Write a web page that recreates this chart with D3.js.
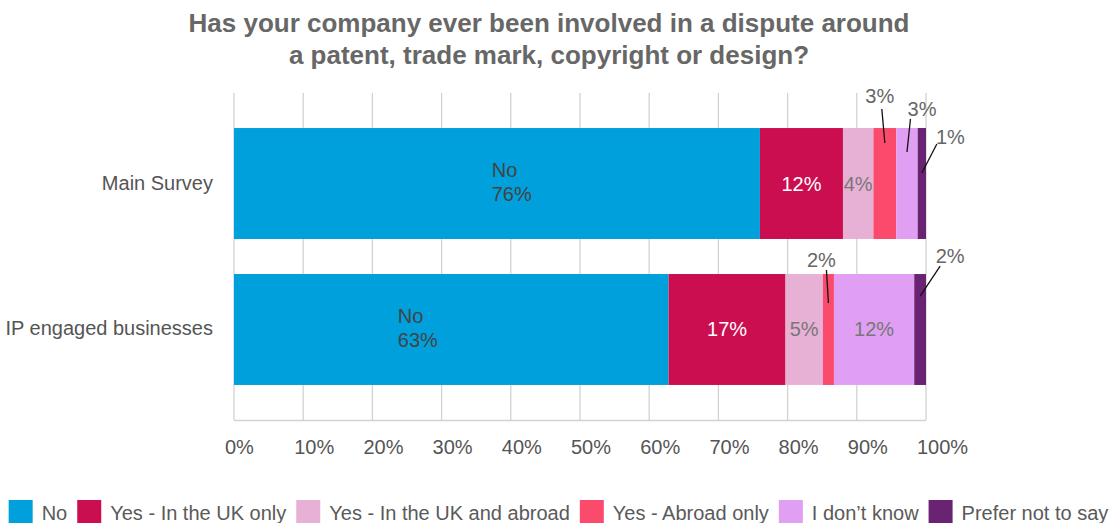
<!DOCTYPE html>
<html>
<head>
<meta charset="utf-8">
<script src="https://cdn.jsdelivr.net/npm/d3@7"></script>
<style>
  html, body { margin: 0; padding: 0; background: #fff; }
  svg { display: block; font-family: "Liberation Sans", Arial, Helvetica, sans-serif; }
</style>
</head>
<body>
<svg id="chart" width="1117" height="523"></svg>
<script>
// Survey responses, share of respondents (%)
const titleLines = ["Has your company ever been involved in a dispute around",
                    "a patent, trade mark, copyright or design?"];
const categories = ["Main Survey", "IP engaged businesses"];
const seriesNames = ["No", "Yes - In the UK only", "Yes - In the UK and abroad",
                     "Yes - Abroad only", "I don\u2019t know", "Prefer not to say"];
const mainSurvey = [76.0, 12.0, 4.4, 3.3, 3.1, 1.2];
const ipEngaged  = [62.8, 16.9, 5.4, 1.6, 11.6, 1.7];
const tickValues = [0, 10, 20, 30, 40, 50, 60, 70, 80, 90, 100];

const colors = ["#00a0dc", "#cb0e4f", "#e7b1d6", "#fa4b6c", "#e09ff2", "#692372"];
// in-bar label colour per series
const insideLabelColor = ["#444", "#fff", "#777", "#777", "#777", "#fff"];

const svg = d3.select("#chart");
const x = d3.scaleLinear().domain([0, 100]).range([234, 926]);
const y = d3.scaleBand().domain(categories).range([93, 420]).padding(0.24);

const rows = [mainSurvey, ipEngaged].map((vals, r) => {
  let acc = 0;
  return vals.map((v, i) => {
    const seg = { cat: categories[r], row: r, i, value: v, x0: acc, x1: acc + v };
    acc += v;
    return seg;
  });
});
const segments = rows.flat();

// Title
svg.append("g").selectAll("text").data(titleLines).join("text")
  .attr("x", 549).attr("y", (d, i) => 32 + i * 32)
  .attr("text-anchor", "middle")
  .attr("font-size", 26).attr("font-weight", "bold").attr("fill", "#676767")
  .text(d => d);

// Gridlines
svg.append("g").selectAll("line").data(tickValues).join("line")
  .attr("x1", d => x(d)).attr("x2", d => x(d))
  .attr("y1", 93).attr("y2", 420)
  .attr("stroke", "#d2d2d2").attr("stroke-width", 1.3);
svg.append("line")
  .attr("x1", x(0)).attr("x2", x(100)).attr("y1", 420.5).attr("y2", 420.5)
  .attr("stroke", "#d2d2d2").attr("stroke-width", 1.3);

// Tick labels
svg.append("g").selectAll("text").data(tickValues).join("text")
  .attr("x", d => x(d) - 9).attr("y", 454)
  .attr("font-size", 20).attr("fill", "#555")
  .text(d => d + "%");

// Category labels
svg.append("g").selectAll("text").data(categories).join("text")
  .attr("x", 213).attr("y", d => y(d) + y.bandwidth() / 2 + 6)
  .attr("text-anchor", "end")
  .attr("font-size", 20).attr("fill", "#555")
  .text(d => d);

// Bars
svg.append("g").selectAll("rect").data(segments).join("rect")
  .attr("x", d => x(d.x0))
  .attr("y", d => y(d.cat))
  .attr("width", d => x(d.x1) - x(d.x0))
  .attr("height", y.bandwidth())
  .attr("fill", d => colors[d.i]);

// Labels
const pct = d => Math.round(d.value) + "%";
const labels = svg.append("g").attr("font-size", 20);

// "No" segments: two-line label, shifted along the segment
const noShift = [0.49, 0.377];
segments.filter(d => d.i === 0).forEach(d => {
  const cx = x(d.x0 + d.value * noShift[d.row]);
  const cy = y(d.cat) + y.bandwidth() / 2;
  const t = labels.append("text").attr("x", cx).attr("fill", insideLabelColor[0]);
  t.append("tspan").attr("x", cx).attr("y", cy - 6.5).text(seriesNames[0]);
  t.append("tspan").attr("x", cx).attr("y", cy + 17.5).text(pct(d));
});

// Narrow segments get a leader line out to the label
const leader = {
  "0-3": { tx: -5, ty: -25, lx0: -3, ly0: -19, ly1: 15 },
  "0-4": { tx: 15, ty: -12, lx0: 3.5, ly0: -9, ly1: 24 },
  "0-5": { tx: 28.5, ty: 16, lx0: 15, ly0: 16, ly1: 45 },
  "1-3": { tx: -7, ty: -7, lx0: -2, ly0: -4, ly1: 29 },
  "1-5": { tx: 30, ty: -11, lx0: 20, ly0: -8, ly1: 22 }
};
segments.filter(d => d.i > 0).forEach(d => {
  const cx = (x(d.x0) + x(d.x1)) / 2;
  const top = y(d.cat);
  const key = d.row + "-" + d.i;
  const ann = leader[key];
  if (ann) {
    labels.append("line")
      .attr("x1", cx + ann.lx0).attr("y1", top + ann.ly0)
      .attr("x2", cx).attr("y2", top + ann.ly1)
      .attr("stroke", "#111").attr("stroke-width", 1.3);
    labels.append("text")
      .attr("x", cx + ann.tx).attr("y", top + ann.ty)
      .attr("text-anchor", "middle").attr("fill", "#666")
      .text(pct(d));
  } else {
    labels.append("text")
      .attr("x", cx).attr("y", top + y.bandwidth() / 2 + 7)
      .attr("text-anchor", "middle").attr("fill", insideLabelColor[d.i])
      .text(pct(d));
  }
});

// Legend
const legend = svg.append("g").attr("font-size", 20).attr("fill", "#5a5a5a");
const items = legend.selectAll("g").data(seriesNames).join("g");
items.append("rect").attr("width", 24).attr("height", 24).attr("y", 500)
  .attr("fill", (d, i) => colors[i]);
items.append("text").attr("x", 33).attr("y", 520).text(d => d);
const widths = [];
items.each(function () {
  widths.push(33 + this.querySelector("text").getComputedTextLength());
});
const gap = 10;
const total = d3.sum(widths) + gap * (widths.length - 1);
let off = (1117 - total) / 2;
items.attr("transform", (d, i) => {
  const t = `translate(${off},0)`;
  off += widths[i] + gap;
  return t;
});
</script>
</body>
</html>
